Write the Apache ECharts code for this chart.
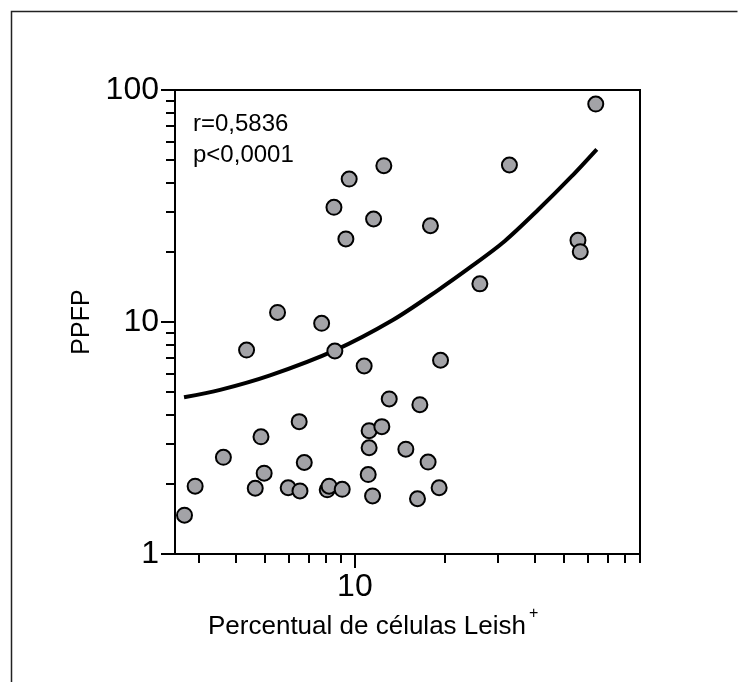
<!DOCTYPE html>
<html><head><meta charset="utf-8">
<script src="https://cdn.jsdelivr.net/npm/echarts@6/dist/echarts.min.js"></script>
<style>html,body{margin:0;padding:0;background:#fff}#c{width:748px;height:682px}</style>
</head><body><div id="c"></div>
<script>
// Percentual de células Leish+ (x) and PPFP (y)
const leishPct = [12.5, 9.57, 8.51, 11.55, 9.33, 5.51, 7.74, 64.0, 32.9, 17.9, 55.8, 56.8, 26.2,
  4.34, 8.57, 10.74, 13.03, 6.51, 11.16, 12.31, 4.85, 3.63, 11.16, 14.81, 6.77, 4.97, 11.08,
  2.92, 4.64, 5.98, 6.55, 8.08, 8.20, 9.07, 11.46, 2.69, 19.35, 16.5, 17.58, 19.14, 16.2];
const ppfp = [47.2, 41.3, 31.2, 27.8, 22.8, 11.0, 9.87, 87.0, 47.5, 26.0, 22.5, 20.1, 14.6,
  7.57, 7.50, 6.46, 4.66, 3.72, 3.40, 3.54, 3.20, 2.61, 2.87, 2.83, 2.48, 2.23, 2.20,
  1.96, 1.92, 1.93, 1.87, 1.89, 1.96, 1.90, 1.78, 1.47, 6.84, 4.40, 2.49, 1.93, 1.73];
// fitted curve
const fitX = [2.68, 3.54, 5.20, 8.57, 13.4, 18.95, 24.6, 31.7, 40.9, 53.2, 64.5];
const fitY = [4.74, 5.10, 5.89, 7.55, 10.2, 13.7, 17.4, 22.3, 30.3, 42.5, 55.5];
// axes
const xRange = [2.5, 90];
const yRange = [1, 100];
const xMajorTicks = [10];
const xMinorTicks = [3, 4, 5, 6, 7, 8, 9, 20, 30, 40, 50, 60, 70, 80, 90];
const yMajorTicks = [1, 10, 100];
const yMinorTicks = [2, 3, 4, 5, 6, 7, 8, 9, 20, 30, 40, 50, 60, 70, 80, 90];
const statsLines = ['r=0,5836', 'p<0,0001'];
const xTitle = 'Percentual de células Leish';
const xTitleSup = '+';
const yTitle = 'PPFP';

const FONT = "'Liberation Sans', Arial, sans-serif";
const chart = echarts.init(document.getElementById('c'), null, {renderer: 'canvas'});

function xAxisDef(ticks, len, labels, line) {
  return {
    type: 'log', min: xRange[0], max: xRange[1], position: 'bottom', gridIndex: 0,
    axisLine: {show: line, onZero: false, lineStyle: {color: '#000', width: 2}},
    axisTick: {show: true, inside: false, length: len, customValues: ticks, lineStyle: {color: '#000', width: 2}},
    axisLabel: {show: labels, customValues: labels ? xMajorTicks : undefined, margin: 17,
      color: '#000', fontSize: 32, fontFamily: FONT, formatter: v => String(v)},
    splitLine: {show: false}, minorTick: {show: false}
  };
}
function yAxisDef(ticks, len, labels, line) {
  return {
    type: 'log', min: yRange[0], max: yRange[1], position: 'left', gridIndex: 0,
    axisLine: {show: line, onZero: false, lineStyle: {color: '#000', width: 2}},
    axisTick: {show: true, inside: false, length: len, customValues: ticks, lineStyle: {color: '#000', width: 2}},
    axisLabel: {show: labels, customValues: labels ? yMajorTicks : undefined, margin: 16,
      color: '#000', fontSize: 32, fontFamily: FONT, formatter: v => String(v)},
    splitLine: {show: false}, minorTick: {show: false},
    name: labels ? yTitle : '', nameLocation: 'middle', nameGap: 80, nameRotate: 90,
    nameTextStyle: {color: '#000', fontSize: 25, fontFamily: FONT}
  };
}

const option = {
  animation: false,
  backgroundColor: '#fff',
  grid: {left: 175, right: 108, top: 90, bottom: 128, show: true, borderColor: '#000', borderWidth: 2,
    backgroundColor: 'transparent', outerBoundsMode: 'none'},
  xAxis: [xAxisDef(xMajorTicks, 14, true, true), xAxisDef(xMinorTicks, 9, false, false)],
  yAxis: [yAxisDef(yMajorTicks, 14, true, true), yAxisDef(yMinorTicks, 9, false, false)],
  series: [
    {type: 'line', xAxisIndex: 0, yAxisIndex: 0, data: fitX.map((x, i) => [x, fitY[i]]),
      smooth: 0.3, showSymbol: false, symbol: 'none', lineStyle: {color: '#000', width: 4}, z: 2},
    {type: 'scatter', xAxisIndex: 0, yAxisIndex: 0, data: leishPct.map((x, i) => [x, ppfp[i]]),
      symbol: 'circle', symbolSize: 15,
      itemStyle: {color: '#a3a3a7', borderColor: '#000', borderWidth: 2, opacity: 1}, z: 3}
  ],
  graphic: [
    {type: 'polyline', silent: true, shape: {points: [[11.5, 700], [11.5, 11.5], [737.5, 11.5]]},
      style: {stroke: '#222', lineWidth: 1.5, fill: null}},
    {type: 'text', x: 193, y: 124.5, style: {text: statsLines[0], fontSize: 24, fontFamily: FONT,
      fill: '#000', verticalAlign: 'middle', align: 'left'}},
    {type: 'text', x: 193, y: 155, style: {text: statsLines[1], fontSize: 24, fontFamily: FONT,
      fill: '#000', verticalAlign: 'middle', align: 'left'}},
    {type: 'text', x: 208, y: 627, style: {text: xTitle, fontSize: 26, fontFamily: FONT,
      fill: '#000', verticalAlign: 'middle', align: 'left'}},
    {type: 'text', x: 529, y: 614, style: {text: xTitleSup, fontSize: 16, fontFamily: FONT,
      fill: '#000', verticalAlign: 'middle', align: 'left'}}
  ]
};
chart.setOption(option);
</script>
</body></html>
